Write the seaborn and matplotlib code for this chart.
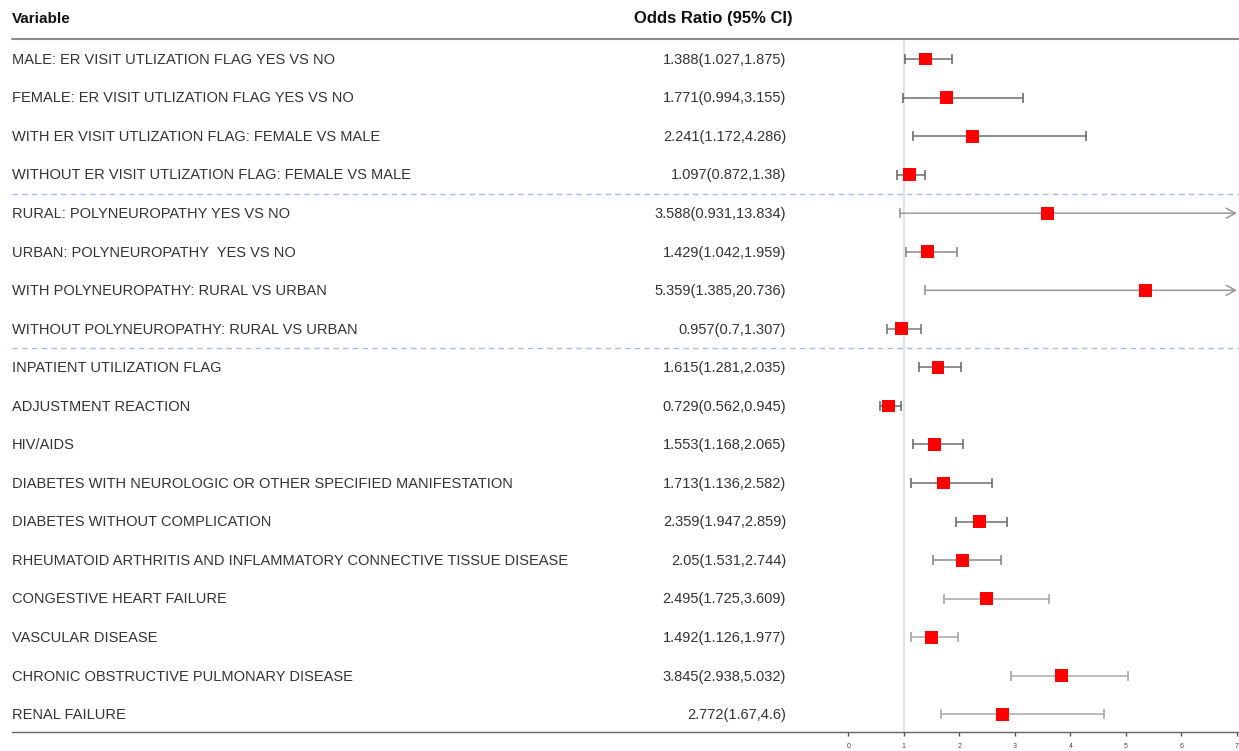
import matplotlib
matplotlib.use("Agg")
import matplotlib.pyplot as plt
import matplotlib.transforms as mtransforms
import seaborn as sns
import pandas as pd
import numpy as np

variables = [
    "MALE: ER VISIT UTLIZATION FLAG YES VS NO",
    "FEMALE: ER VISIT UTLIZATION FLAG YES VS NO",
    "WITH ER VISIT UTLIZATION FLAG: FEMALE VS MALE",
    "WITHOUT ER VISIT UTLIZATION FLAG: FEMALE VS MALE",
    "RURAL: POLYNEUROPATHY YES VS NO",
    "URBAN: POLYNEUROPATHY  YES VS NO",
    "WITH POLYNEUROPATHY: RURAL VS URBAN",
    "WITHOUT POLYNEUROPATHY: RURAL VS URBAN",
    "INPATIENT UTILIZATION FLAG",
    "ADJUSTMENT REACTION",
    "HIV/AIDS",
    "DIABETES WITH NEUROLOGIC OR OTHER SPECIFIED MANIFESTATION",
    "DIABETES WITHOUT COMPLICATION",
    "RHEUMATOID ARTHRITIS AND INFLAMMATORY CONNECTIVE TISSUE DISEASE",
    "CONGESTIVE HEART FAILURE",
    "VASCULAR DISEASE",
    "CHRONIC OBSTRUCTIVE PULMONARY DISEASE",
    "RENAL FAILURE",
]
odds_ratio = [1.388, 1.771, 2.241, 1.097, 3.588, 1.429, 5.359, 0.957, 1.615,
              0.729, 1.553, 1.713, 2.359, 2.05, 2.495, 1.492, 3.845, 2.772]
ci_lower = [1.027, 0.994, 1.172, 0.872, 0.931, 1.042, 1.385, 0.7, 1.281,
            0.562, 1.168, 1.136, 1.947, 1.531, 1.725, 1.126, 2.938, 1.67]
ci_upper = [1.875, 3.155, 4.286, 1.38, 13.834, 1.959, 20.736, 1.307, 2.035,
            0.945, 2.065, 2.582, 2.859, 2.744, 3.609, 1.977, 5.032, 4.6]
or_labels = ["1.388(1.027,1.875)", "1.771(0.994,3.155)", "2.241(1.172,4.286)",
             "1.097(0.872,1.38)", "3.588(0.931,13.834)", "1.429(1.042,1.959)",
             "5.359(1.385,20.736)", "0.957(0.7,1.307)", "1.615(1.281,2.035)",
             "0.729(0.562,0.945)", "1.553(1.168,2.065)", "1.713(1.136,2.582)",
             "2.359(1.947,2.859)", "2.05(1.531,2.744)", "2.495(1.725,3.609)",
             "1.492(1.126,1.977)", "3.845(2.938,5.032)", "2.772(1.67,4.6)"]
group_breaks = [3.5, 7.5]
x_ticks = [0, 1, 2, 3, 4, 5, 6, 7]

whisker_colors = ["#6e6e6e", "#6e6e6e", "#6e6e6e", "#6e6e6e", "#9a9a9a", "#8a8a8a",
                  "#9a9a9a", "#7a7a7a", "#6e6e6e", "#6e6e6e", "#6e6e6e", "#6e6e6e",
                  "#6e6e6e", "#8a8a8a", "#a8a8a8", "#a8a8a8", "#a8a8a8", "#a8a8a8"]

df = pd.DataFrame({"var": variables, "or": odds_ratio, "lo": ci_lower,
                   "hi": ci_upper, "lab": or_labels})
df["row"] = np.arange(len(df))

sns.set_theme(style="white")
plt.rcParams["font.family"] = ["Liberation Sans", "DejaVu Sans"]

W, H = 1239, 751
fig = plt.figure(figsize=(W / 100, H / 100), dpi=100)
ax = fig.add_axes([0, 19 / H, 1, 732 / H])

px_per_unit = (1237 - 848.3) / 7
x_left = -848.3 / px_per_unit
x_right = (W - 848.3) / px_per_unit
ax.set_xlim(x_left, x_right)
row_px = 38.55
ax.set_ylim((732 - 59) / row_px, -59 / row_px)

xmax = x_ticks[-1]
trans = mtransforms.blended_transform_factory(ax.transAxes, ax.transData)

# reference line at 1
ax.vlines(1, -20 / row_px, (732 - 59) / row_px, color="#dcdcdc", lw=1.2, zorder=1)

# whiskers
for i, r in df.iterrows():
    c = whisker_colors[i]
    if r["hi"] > xmax:
        ax.annotate("", xy=(xmax, r["row"]), xytext=(r["lo"], r["row"]),
                    arrowprops=dict(arrowstyle="->,head_length=0.55,head_width=0.3",
                                    color=c, lw=1.1, shrinkA=0, shrinkB=0), zorder=2)
        ax.plot([r["lo"]], [r["row"]], marker="|", ms=7.5, mew=1.2, color=c, zorder=2)
    else:
        ax.plot([r["lo"], r["hi"]], [r["row"], r["row"]], color=c, lw=1.1, zorder=2)
        ax.plot([r["lo"], r["hi"]], [r["row"], r["row"]], ls="none", marker="|",
                ms=7.5, mew=1.2, color=c, zorder=2)

sns.scatterplot(data=df, x="or", y="row", marker="s", s=85, color="#ff0000",
                edgecolor="none", ax=ax, zorder=3, legend=False)

# texts
txt_color = "#333333"
fs = 10.5
for i, r in df.iterrows():
    ax.text(12 / W, r["row"] + 0.02, r["var"], transform=trans, ha="left", va="center",
            fontsize=fs, color=txt_color)
    ax.text(786 / W, r["row"] + 0.02, r["lab"], transform=trans, ha="right", va="center",
            fontsize=fs, color=txt_color)

hdr_y = (19 - 59) / row_px
ax.text(12 / W, hdr_y, "Variable", transform=trans, ha="left", va="center",
        fontsize=11, fontweight="bold", color="#111111")
ax.text(793 / W, hdr_y, "Odds Ratio (95% CI)", transform=trans, ha="right",
        va="center", fontsize=12, fontweight="bold", color="#111111")

# header line
ax.plot([12 / W, 1], [(39 - 59) / row_px] * 2, transform=trans, color="#8c8c8c",
        lw=1.5, zorder=1)
# group separators
for b in group_breaks:
    ax.plot([12 / W, 1], [b, b], transform=trans, color="#a8b8f0", lw=1.0,
            ls=(0, (4, 3)), zorder=1)

# axis
for s in ["top", "left", "right"]:
    ax.spines[s].set_visible(False)
ax.spines["bottom"].set_visible(True)
ax.spines["bottom"].set_color("#666666")
ax.spines["bottom"].set_linewidth(1.0)
ax.spines["bottom"].set_bounds((12 - 848.3) / px_per_unit, x_right)
ax.set_xticks(x_ticks)
ax.set_xticklabels([str(t) for t in x_ticks])
ax.tick_params(axis="x", bottom=True, length=3, width=1, color="#555555",
               labelsize=5, labelcolor="#444444", pad=5)
ax.set_yticks([])
ax.set_xlabel("")
ax.set_ylabel("")
ax.grid(False)

fig.savefig("out.png", dpi=100, facecolor="white")
